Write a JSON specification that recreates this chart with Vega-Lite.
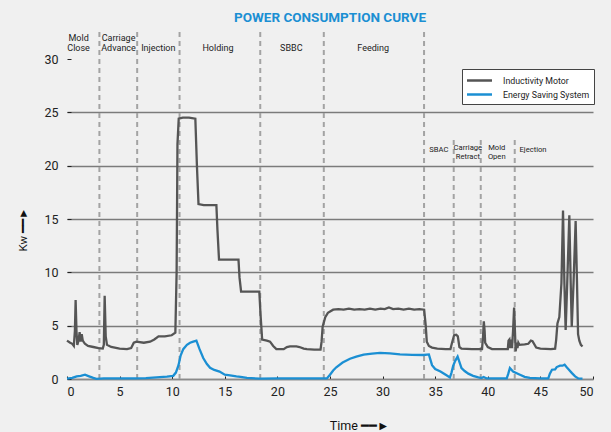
{
  "$schema": "https://vega.github.io/schema/vega-lite/v6.json",
  "width": 526,
  "height": 320,
  "autosize": {"type": "none"},
  "padding": {"left": 67, "top": 59, "right": 18, "bottom": 53},
  "background": "#f0f0f0",
  "title": {
    "text": "POWER CONSUMPTION CURVE",
    "color": "#1b8fd3",
    "fontSize": 13.5,
    "fontWeight": "bold",
    "font": "Roboto, sans-serif",
    "anchor": "middle",
    "frame": "group",
    "baseline": "middle",
    "offset": -2
  },
  "config": {
    "view": {"stroke": null},
    "font": "Roboto, sans-serif",
    "legend": {
      "strokeColor": "#444444",
      "strokeWidth": 1,
      "fillColor": "#ffffff",
      "padding": 4,
      "cornerRadius": 0
    }
  },
  "layer": [
    {
      "data": {"values": [
        {"t": 3.08, "kw": 0, "top": 32.7},
        {"t": 6.67, "kw": 0, "top": 32.7},
        {"t": 10.70, "kw": 0, "top": 32.7},
        {"t": 18.37, "kw": 0, "top": 32.7},
        {"t": 24.41, "kw": 0, "top": 32.7},
        {"t": 33.94, "kw": 0, "top": 32.7},
        {"t": 36.76, "kw": 0, "top": 22.6},
        {"t": 39.33, "kw": 0, "top": 22.6},
        {"t": 42.56, "kw": 0, "top": 22.6}
      ]},
      "mark": {"type": "rule", "color": "#a3a3a3", "strokeWidth": 2, "strokeDash": [5, 4]},
      "encoding": {
        "x": {"field": "t", "type": "quantitative"},
        "y": {"field": "kw", "type": "quantitative"},
        "y2": {"field": "top"}
      }
    },
    {
      "data": {"values": [
        {"t": 1.1, "kw": 31.97, "label": "Mold\nClose"},
        {"t": 4.9, "kw": 31.97, "label": "Carriage\nAdvance"},
        {"t": 8.68, "kw": 31.03, "label": "Injection"},
        {"t": 14.35, "kw": 31.03, "label": "Holding"},
        {"t": 21.32, "kw": 31.03, "label": "SBBC"},
        {"t": 29.1, "kw": 31.03, "label": "Feeding"}
      ]},
      "mark": {"type": "text", "fontSize": 9, "lineHeight": 10, "lineBreak": "\n", "color": "#222222", "align": "center", "baseline": "middle"},
      "encoding": {
        "x": {"field": "t", "type": "quantitative"},
        "y": {"field": "kw", "type": "quantitative"},
        "text": {"field": "label"}
      }
    },
    {
      "data": {"values": [
        {"t": 35.34, "kw": 21.43, "label": "SBAC"},
        {"t": 38.1, "kw": 21.66, "label": "Carriage\nRetract"},
        {"t": 40.85, "kw": 21.66, "label": "Mold\nOpen"},
        {"t": 44.3, "kw": 21.43, "label": "Ejection"}
      ]},
      "mark": {"type": "text", "fontSize": 7.6, "lineHeight": 9.4, "lineBreak": "\n", "color": "#222222", "align": "center", "baseline": "middle"},
      "encoding": {
        "x": {"field": "t", "type": "quantitative"},
        "y": {"field": "kw", "type": "quantitative"},
        "text": {"field": "label"}
      }
    },
    {
      "data": {"values": [
        {"s": "Inductivity Motor", "t": 0, "kw": 3.6},
        {"s": "Inductivity Motor", "t": 0.3, "kw": 3.4},
        {"s": "Inductivity Motor", "t": 0.5, "kw": 3.3},
        {"s": "Inductivity Motor", "t": 0.65, "kw": 3.1},
        {"s": "Inductivity Motor", "t": 0.75, "kw": 4.5},
        {"s": "Inductivity Motor", "t": 0.82, "kw": 7.4},
        {"s": "Inductivity Motor", "t": 0.9, "kw": 4.5},
        {"s": "Inductivity Motor", "t": 0.98, "kw": 3.2},
        {"s": "Inductivity Motor", "t": 1.1, "kw": 3.6},
        {"s": "Inductivity Motor", "t": 1.2, "kw": 4.4},
        {"s": "Inductivity Motor", "t": 1.3, "kw": 3.5},
        {"s": "Inductivity Motor", "t": 1.4, "kw": 4.2},
        {"s": "Inductivity Motor", "t": 1.5, "kw": 3.6},
        {"s": "Inductivity Motor", "t": 1.7, "kw": 3.3},
        {"s": "Inductivity Motor", "t": 2.0, "kw": 3.1},
        {"s": "Inductivity Motor", "t": 2.5, "kw": 3.0},
        {"s": "Inductivity Motor", "t": 3.0, "kw": 2.9},
        {"s": "Inductivity Motor", "t": 3.4, "kw": 2.85},
        {"s": "Inductivity Motor", "t": 3.5, "kw": 3.2},
        {"s": "Inductivity Motor", "t": 3.58, "kw": 7.8},
        {"s": "Inductivity Motor", "t": 3.68, "kw": 4.0},
        {"s": "Inductivity Motor", "t": 3.8, "kw": 3.2},
        {"s": "Inductivity Motor", "t": 4.2, "kw": 3.0},
        {"s": "Inductivity Motor", "t": 5.0, "kw": 2.85},
        {"s": "Inductivity Motor", "t": 5.7, "kw": 2.8},
        {"s": "Inductivity Motor", "t": 6.1, "kw": 2.9},
        {"s": "Inductivity Motor", "t": 6.35, "kw": 3.4},
        {"s": "Inductivity Motor", "t": 6.6, "kw": 3.5},
        {"s": "Inductivity Motor", "t": 7.3, "kw": 3.4},
        {"s": "Inductivity Motor", "t": 7.9, "kw": 3.5},
        {"s": "Inductivity Motor", "t": 8.3, "kw": 3.7},
        {"s": "Inductivity Motor", "t": 8.7, "kw": 4.0},
        {"s": "Inductivity Motor", "t": 9.3, "kw": 4.0},
        {"s": "Inductivity Motor", "t": 9.95, "kw": 4.1},
        {"s": "Inductivity Motor", "t": 10.3, "kw": 4.35},
        {"s": "Inductivity Motor", "t": 10.42, "kw": 10},
        {"s": "Inductivity Motor", "t": 10.5, "kw": 22},
        {"s": "Inductivity Motor", "t": 10.62, "kw": 24.4},
        {"s": "Inductivity Motor", "t": 11.0, "kw": 24.5},
        {"s": "Inductivity Motor", "t": 11.6, "kw": 24.5},
        {"s": "Inductivity Motor", "t": 12.2, "kw": 24.4},
        {"s": "Inductivity Motor", "t": 12.35, "kw": 20},
        {"s": "Inductivity Motor", "t": 12.5, "kw": 16.4},
        {"s": "Inductivity Motor", "t": 13.0, "kw": 16.3},
        {"s": "Inductivity Motor", "t": 14.2, "kw": 16.3},
        {"s": "Inductivity Motor", "t": 14.3, "kw": 14},
        {"s": "Inductivity Motor", "t": 14.45, "kw": 11.2},
        {"s": "Inductivity Motor", "t": 15.5, "kw": 11.2},
        {"s": "Inductivity Motor", "t": 16.3, "kw": 11.2},
        {"s": "Inductivity Motor", "t": 16.4, "kw": 9.5},
        {"s": "Inductivity Motor", "t": 16.55, "kw": 8.2},
        {"s": "Inductivity Motor", "t": 17.3, "kw": 8.2},
        {"s": "Inductivity Motor", "t": 18.28, "kw": 8.2},
        {"s": "Inductivity Motor", "t": 18.4, "kw": 6},
        {"s": "Inductivity Motor", "t": 18.55, "kw": 3.7},
        {"s": "Inductivity Motor", "t": 19.0, "kw": 3.6},
        {"s": "Inductivity Motor", "t": 19.3, "kw": 3.5},
        {"s": "Inductivity Motor", "t": 19.6, "kw": 3.1},
        {"s": "Inductivity Motor", "t": 19.9, "kw": 2.8},
        {"s": "Inductivity Motor", "t": 20.6, "kw": 2.8},
        {"s": "Inductivity Motor", "t": 20.9, "kw": 3.0},
        {"s": "Inductivity Motor", "t": 21.2, "kw": 3.06},
        {"s": "Inductivity Motor", "t": 21.8, "kw": 3.05},
        {"s": "Inductivity Motor", "t": 22.1, "kw": 3.0},
        {"s": "Inductivity Motor", "t": 22.5, "kw": 2.85},
        {"s": "Inductivity Motor", "t": 22.8, "kw": 2.8},
        {"s": "Inductivity Motor", "t": 23.5, "kw": 2.75},
        {"s": "Inductivity Motor", "t": 24.1, "kw": 2.75},
        {"s": "Inductivity Motor", "t": 24.2, "kw": 3.5},
        {"s": "Inductivity Motor", "t": 24.3, "kw": 4.9},
        {"s": "Inductivity Motor", "t": 24.55, "kw": 5.8},
        {"s": "Inductivity Motor", "t": 24.8, "kw": 6.2},
        {"s": "Inductivity Motor", "t": 25.3, "kw": 6.5},
        {"s": "Inductivity Motor", "t": 25.8, "kw": 6.55},
        {"s": "Inductivity Motor", "t": 26.3, "kw": 6.5},
        {"s": "Inductivity Motor", "t": 26.8, "kw": 6.6},
        {"s": "Inductivity Motor", "t": 27.3, "kw": 6.5},
        {"s": "Inductivity Motor", "t": 27.8, "kw": 6.55},
        {"s": "Inductivity Motor", "t": 28.3, "kw": 6.5},
        {"s": "Inductivity Motor", "t": 28.8, "kw": 6.6},
        {"s": "Inductivity Motor", "t": 29.3, "kw": 6.5},
        {"s": "Inductivity Motor", "t": 29.8, "kw": 6.6},
        {"s": "Inductivity Motor", "t": 30.2, "kw": 6.55},
        {"s": "Inductivity Motor", "t": 30.6, "kw": 6.7},
        {"s": "Inductivity Motor", "t": 31.0, "kw": 6.55},
        {"s": "Inductivity Motor", "t": 31.5, "kw": 6.6},
        {"s": "Inductivity Motor", "t": 32.0, "kw": 6.5},
        {"s": "Inductivity Motor", "t": 32.5, "kw": 6.6},
        {"s": "Inductivity Motor", "t": 33.0, "kw": 6.5},
        {"s": "Inductivity Motor", "t": 33.5, "kw": 6.55},
        {"s": "Inductivity Motor", "t": 33.95, "kw": 6.5},
        {"s": "Inductivity Motor", "t": 34.1, "kw": 5.0},
        {"s": "Inductivity Motor", "t": 34.2, "kw": 3.5},
        {"s": "Inductivity Motor", "t": 34.4, "kw": 3.1},
        {"s": "Inductivity Motor", "t": 34.7, "kw": 2.95},
        {"s": "Inductivity Motor", "t": 35.2, "kw": 2.85},
        {"s": "Inductivity Motor", "t": 36.0, "kw": 2.8},
        {"s": "Inductivity Motor", "t": 36.45, "kw": 2.8},
        {"s": "Inductivity Motor", "t": 36.6, "kw": 3.4},
        {"s": "Inductivity Motor", "t": 36.8, "kw": 4.1},
        {"s": "Inductivity Motor", "t": 37.0, "kw": 4.15},
        {"s": "Inductivity Motor", "t": 37.15, "kw": 4.0},
        {"s": "Inductivity Motor", "t": 37.3, "kw": 3.0},
        {"s": "Inductivity Motor", "t": 37.5, "kw": 2.85},
        {"s": "Inductivity Motor", "t": 38.5, "kw": 2.8},
        {"s": "Inductivity Motor", "t": 39.45, "kw": 2.8},
        {"s": "Inductivity Motor", "t": 39.55, "kw": 4.0},
        {"s": "Inductivity Motor", "t": 39.62, "kw": 5.4},
        {"s": "Inductivity Motor", "t": 39.7, "kw": 4.5},
        {"s": "Inductivity Motor", "t": 39.75, "kw": 3.4},
        {"s": "Inductivity Motor", "t": 40.0, "kw": 3.0},
        {"s": "Inductivity Motor", "t": 40.4, "kw": 2.8},
        {"s": "Inductivity Motor", "t": 41.0, "kw": 2.8},
        {"s": "Inductivity Motor", "t": 41.9, "kw": 2.8},
        {"s": "Inductivity Motor", "t": 41.97, "kw": 3.6},
        {"s": "Inductivity Motor", "t": 42.05, "kw": 3.7},
        {"s": "Inductivity Motor", "t": 42.1, "kw": 2.9},
        {"s": "Inductivity Motor", "t": 42.2, "kw": 3.7},
        {"s": "Inductivity Motor", "t": 42.3, "kw": 2.9},
        {"s": "Inductivity Motor", "t": 42.4, "kw": 4.5},
        {"s": "Inductivity Motor", "t": 42.5, "kw": 6.7},
        {"s": "Inductivity Motor", "t": 42.58, "kw": 4.5},
        {"s": "Inductivity Motor", "t": 42.65, "kw": 2.6},
        {"s": "Inductivity Motor", "t": 42.75, "kw": 3.4},
        {"s": "Inductivity Motor", "t": 42.82, "kw": 2.9},
        {"s": "Inductivity Motor", "t": 42.9, "kw": 3.4},
        {"s": "Inductivity Motor", "t": 43.0, "kw": 3.2},
        {"s": "Inductivity Motor", "t": 43.5, "kw": 3.25},
        {"s": "Inductivity Motor", "t": 43.85, "kw": 3.3},
        {"s": "Inductivity Motor", "t": 44.1, "kw": 3.6},
        {"s": "Inductivity Motor", "t": 44.25, "kw": 3.55},
        {"s": "Inductivity Motor", "t": 44.6, "kw": 2.95},
        {"s": "Inductivity Motor", "t": 45.0, "kw": 2.85},
        {"s": "Inductivity Motor", "t": 46.0, "kw": 2.8},
        {"s": "Inductivity Motor", "t": 46.4, "kw": 2.85},
        {"s": "Inductivity Motor", "t": 46.5, "kw": 3.7},
        {"s": "Inductivity Motor", "t": 46.62, "kw": 5.2},
        {"s": "Inductivity Motor", "t": 46.8, "kw": 5.8},
        {"s": "Inductivity Motor", "t": 47.0, "kw": 9},
        {"s": "Inductivity Motor", "t": 47.15, "kw": 15.8},
        {"s": "Inductivity Motor", "t": 47.28, "kw": 9},
        {"s": "Inductivity Motor", "t": 47.4, "kw": 4.6},
        {"s": "Inductivity Motor", "t": 47.55, "kw": 9},
        {"s": "Inductivity Motor", "t": 47.75, "kw": 15.35},
        {"s": "Inductivity Motor", "t": 47.88, "kw": 9},
        {"s": "Inductivity Motor", "t": 47.98, "kw": 4.9},
        {"s": "Inductivity Motor", "t": 48.15, "kw": 9},
        {"s": "Inductivity Motor", "t": 48.35, "kw": 14.8},
        {"s": "Inductivity Motor", "t": 48.48, "kw": 9},
        {"s": "Inductivity Motor", "t": 48.58, "kw": 4.2},
        {"s": "Inductivity Motor", "t": 48.7, "kw": 3.6},
        {"s": "Inductivity Motor", "t": 48.85, "kw": 3.2},
        {"s": "Inductivity Motor", "t": 49.0, "kw": 3.05},
        {"s": "Energy Saving System", "t": 0, "kw": 0.03},
        {"s": "Energy Saving System", "t": 0.5, "kw": 0.1},
        {"s": "Energy Saving System", "t": 0.92, "kw": 0.25},
        {"s": "Energy Saving System", "t": 1.3, "kw": 0.3},
        {"s": "Energy Saving System", "t": 1.71, "kw": 0.4},
        {"s": "Energy Saving System", "t": 2.1, "kw": 0.25},
        {"s": "Energy Saving System", "t": 2.5, "kw": 0.1},
        {"s": "Energy Saving System", "t": 2.8, "kw": 0.02},
        {"s": "Energy Saving System", "t": 3.5, "kw": 0.05},
        {"s": "Energy Saving System", "t": 5, "kw": 0.05},
        {"s": "Energy Saving System", "t": 6.5, "kw": 0.05},
        {"s": "Energy Saving System", "t": 7.5, "kw": 0.08},
        {"s": "Energy Saving System", "t": 8.5, "kw": 0.15},
        {"s": "Energy Saving System", "t": 9.5, "kw": 0.22},
        {"s": "Energy Saving System", "t": 10.1, "kw": 0.3},
        {"s": "Energy Saving System", "t": 10.35, "kw": 0.6},
        {"s": "Energy Saving System", "t": 10.6, "kw": 1.3},
        {"s": "Energy Saving System", "t": 10.8, "kw": 2.2},
        {"s": "Energy Saving System", "t": 11.05, "kw": 2.8},
        {"s": "Energy Saving System", "t": 11.4, "kw": 3.2},
        {"s": "Energy Saving System", "t": 11.7, "kw": 3.4},
        {"s": "Energy Saving System", "t": 12.0, "kw": 3.5},
        {"s": "Energy Saving System", "t": 12.3, "kw": 3.6},
        {"s": "Energy Saving System", "t": 12.6, "kw": 2.8},
        {"s": "Energy Saving System", "t": 12.95, "kw": 1.97},
        {"s": "Energy Saving System", "t": 13.3, "kw": 1.4},
        {"s": "Energy Saving System", "t": 13.6, "kw": 1.05},
        {"s": "Energy Saving System", "t": 14.0, "kw": 0.85},
        {"s": "Energy Saving System", "t": 14.5, "kw": 0.7},
        {"s": "Energy Saving System", "t": 15.0, "kw": 0.4},
        {"s": "Energy Saving System", "t": 15.5, "kw": 0.35},
        {"s": "Energy Saving System", "t": 16.1, "kw": 0.25},
        {"s": "Energy Saving System", "t": 16.5, "kw": 0.2},
        {"s": "Energy Saving System", "t": 17.1, "kw": 0.1},
        {"s": "Energy Saving System", "t": 18.35, "kw": 0.03},
        {"s": "Energy Saving System", "t": 20, "kw": 0.05},
        {"s": "Energy Saving System", "t": 22, "kw": 0.05},
        {"s": "Energy Saving System", "t": 24.7, "kw": 0.05},
        {"s": "Energy Saving System", "t": 25.0, "kw": 0.4},
        {"s": "Energy Saving System", "t": 25.3, "kw": 0.8},
        {"s": "Energy Saving System", "t": 25.6, "kw": 1.1},
        {"s": "Energy Saving System", "t": 26.2, "kw": 1.55},
        {"s": "Energy Saving System", "t": 26.9, "kw": 1.9},
        {"s": "Energy Saving System", "t": 27.5, "kw": 2.1},
        {"s": "Energy Saving System", "t": 28.2, "kw": 2.28},
        {"s": "Energy Saving System", "t": 29.0, "kw": 2.38},
        {"s": "Energy Saving System", "t": 29.75, "kw": 2.44},
        {"s": "Energy Saving System", "t": 30.7, "kw": 2.4},
        {"s": "Energy Saving System", "t": 31.65, "kw": 2.3},
        {"s": "Energy Saving System", "t": 32.8, "kw": 2.27},
        {"s": "Energy Saving System", "t": 33.9, "kw": 2.25},
        {"s": "Energy Saving System", "t": 34.4, "kw": 2.3},
        {"s": "Energy Saving System", "t": 34.55, "kw": 1.8},
        {"s": "Energy Saving System", "t": 34.7, "kw": 1.3},
        {"s": "Energy Saving System", "t": 35.0, "kw": 0.94},
        {"s": "Energy Saving System", "t": 35.5, "kw": 0.7},
        {"s": "Energy Saving System", "t": 36.0, "kw": 0.4},
        {"s": "Energy Saving System", "t": 36.4, "kw": 0.15},
        {"s": "Energy Saving System", "t": 36.55, "kw": 0.6},
        {"s": "Energy Saving System", "t": 36.7, "kw": 1.2},
        {"s": "Energy Saving System", "t": 36.9, "kw": 1.7},
        {"s": "Energy Saving System", "t": 37.13, "kw": 2.1},
        {"s": "Energy Saving System", "t": 37.3, "kw": 1.6},
        {"s": "Energy Saving System", "t": 37.5, "kw": 1.03},
        {"s": "Energy Saving System", "t": 37.8, "kw": 0.75},
        {"s": "Energy Saving System", "t": 38.15, "kw": 0.5},
        {"s": "Energy Saving System", "t": 38.6, "kw": 0.3},
        {"s": "Energy Saving System", "t": 39.1, "kw": 0.15},
        {"s": "Energy Saving System", "t": 39.4, "kw": 0.1},
        {"s": "Energy Saving System", "t": 39.6, "kw": 0.19},
        {"s": "Energy Saving System", "t": 39.9, "kw": 0.05},
        {"s": "Energy Saving System", "t": 41.0, "kw": 0.05},
        {"s": "Energy Saving System", "t": 41.8, "kw": 0.05},
        {"s": "Energy Saving System", "t": 41.95, "kw": 0.5},
        {"s": "Energy Saving System", "t": 42.1, "kw": 1.03},
        {"s": "Energy Saving System", "t": 42.4, "kw": 0.7},
        {"s": "Energy Saving System", "t": 43.06, "kw": 0.4},
        {"s": "Energy Saving System", "t": 43.5, "kw": 0.2},
        {"s": "Energy Saving System", "t": 44.0, "kw": 0.1},
        {"s": "Energy Saving System", "t": 45.0, "kw": 0.05},
        {"s": "Energy Saving System", "t": 45.75, "kw": 0.05},
        {"s": "Energy Saving System", "t": 45.9, "kw": 0.5},
        {"s": "Energy Saving System", "t": 46.1, "kw": 0.87},
        {"s": "Energy Saving System", "t": 46.4, "kw": 0.9},
        {"s": "Energy Saving System", "t": 46.55, "kw": 1.12},
        {"s": "Energy Saving System", "t": 46.86, "kw": 1.25},
        {"s": "Energy Saving System", "t": 47.1, "kw": 1.25},
        {"s": "Energy Saving System", "t": 47.3, "kw": 1.35},
        {"s": "Energy Saving System", "t": 47.5, "kw": 1.1},
        {"s": "Energy Saving System", "t": 47.65, "kw": 0.94},
        {"s": "Energy Saving System", "t": 48.0, "kw": 0.55},
        {"s": "Energy Saving System", "t": 48.3, "kw": 0.25},
        {"s": "Energy Saving System", "t": 48.6, "kw": 0.05},
        {"s": "Energy Saving System", "t": 49.0, "kw": 0.03}
      ]},
      "mark": {"type": "line", "strokeWidth": 2.3, "interpolate": "linear"},
      "encoding": {
        "x": {
          "field": "t", "type": "quantitative",
          "scale": {"domain": [0, 50], "nice": false, "zero": false},
          "axis": {
            "values": [0, 5, 10, 15, 20, 25, 30, 35, 40, 45, 50],
            "grid": false,
            "domain": true, "domainColor": "#8a8a8a", "domainWidth": 1.5,
            "ticks": true, "tickColor": "#222222", "tickWidth": 1, "tickSize": -3,
            "labelFontSize": 12.5, "labelColor": "#222222", "labelPadding": 9,
            "title": "Time ━━►",
            "titleFontSize": 12.5, "titleFontWeight": "normal", "titleColor": "#111111",
            "titleX": 292, "titleY": 46, "titleAlign": "center", "titleBaseline": "middle"
          }
        },
        "y": {
          "field": "kw", "type": "quantitative",
          "scale": {"domain": [0, 30], "nice": false},
          "axis": {
            "values": [0, 5, 10, 15, 20, 25, 30],
            "grid": true, "gridColor": "#7b7b7b", "gridWidth": 1.5,
            "gridOpacity": {"condition": {"test": "datum.value == 30", "value": 0}, "value": 1},
            "domain": false,
            "ticks": true, "tickColor": "#222222", "tickWidth": 1, "tickSize": -4,
            "labelFontSize": 12.5, "labelColor": "#222222", "labelPadding": 13,
            "title": "Kw ━━►",
            "titleFontSize": 11.5, "titleFontWeight": "normal", "titleColor": "#111111",
            "titleX": -44, "titleY": 170, "titleAngle": -90, "titleAlign": "center", "titleBaseline": "middle"
          }
        },
        "color": {
          "field": "s", "type": "nominal",
          "scale": {"domain": ["Inductivity Motor", "Energy Saving System"], "range": ["#555555", "#1b8fd3"]},
          "legend": {
            "title": null,
            "orient": "none", "legendX": 395, "legendY": 10,
            "symbolType": "M-2,0H2", "symbolSize": 156, "symbolStrokeWidth": 2.5, "symbolOffset": 6,
            "labelOffset": 16, "labelFontSize": 8.8, "labelColor": "#222222",
            "rowPadding": 1
          }
        }
      }
    }
  ]
}
